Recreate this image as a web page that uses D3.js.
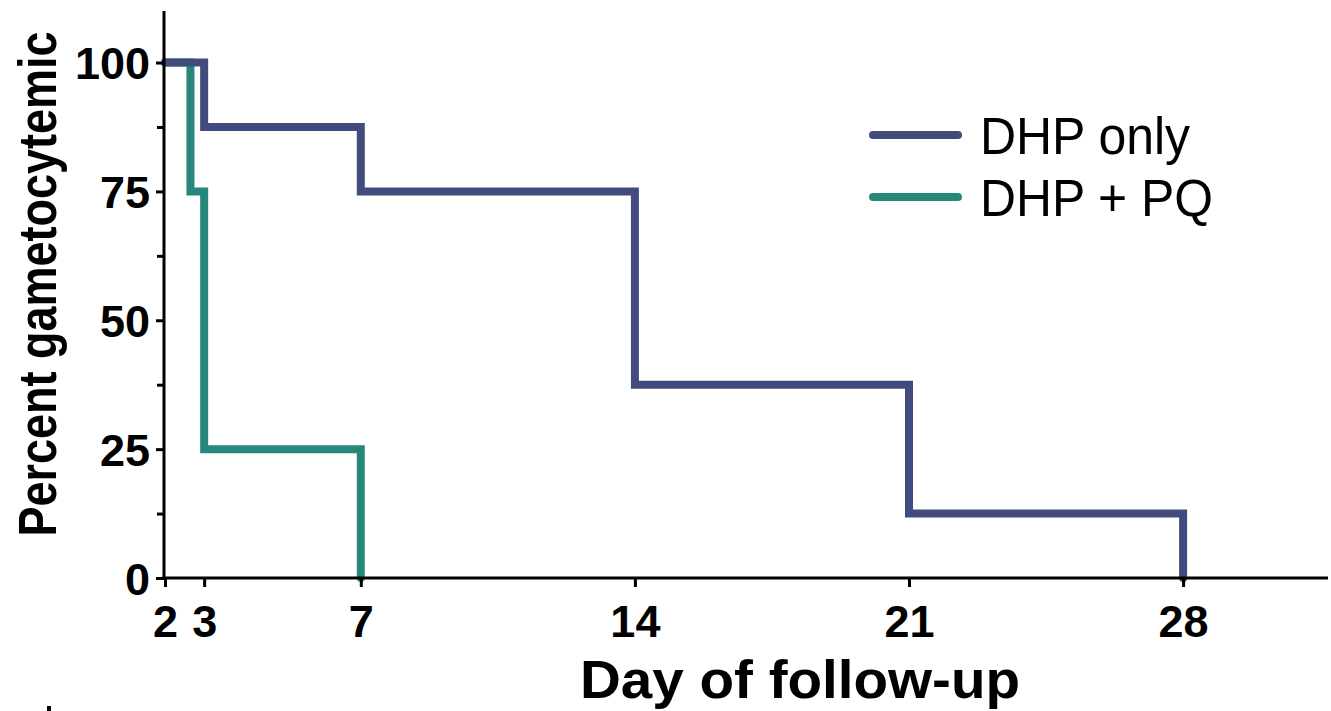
<!DOCTYPE html>
<html>
<head>
<meta charset="utf-8">
<script src="https://cdn.jsdelivr.net/npm/d3@7"></script>
<style>
  html, body { margin: 0; padding: 0; background: #fff; }
  svg { display: block; }
</style>
</head>
<body>
<svg id="chart" width="1331" height="711"></svg>
<script>
// ---- data ----
const dhpOnlyDays   = [2, 3, 7, 14, 21, 28];
const dhpOnlyValues = [100, 87.5, 75, 37.5, 12.5, 0];
const dhpPqDays     = [2, 2.65, 3, 7];
const dhpPqValues   = [100, 75, 25, 0];
const xTicks        = [2, 3, 7, 14, 21, 28];
const yMajorTicks   = [0, 25, 50, 75, 100];
const yMinorTicks   = [12.5, 37.5, 62.5, 87.5];
const seriesNames   = ["DHP only", "DHP + PQ"];
const seriesColors  = ["#414c7c", "#27877a"];
const xTitle = "Day of follow-up";
const yTitle = "Percent gametocytemic";

// ---- layout ----
const svg = d3.select("#chart");
const x = d3.scaleLinear().domain([2, 31.7]).range([165, 1328]);
const y = d3.scaleLinear().domain([0, 110]).range([578, 11]);

// lines
const line = d3.line().x(d => x(d[0])).y(d => y(d[1])).curve(d3.curveStepAfter);
const series = [
  { name: seriesNames[1], color: seriesColors[1], pts: d3.zip(dhpPqDays, dhpPqValues) },
  { name: seriesNames[0], color: seriesColors[0], pts: d3.zip(dhpOnlyDays, dhpOnlyValues) }
];
svg.append("g").selectAll("path").data(series).join("path")
  .attr("d", d => line(d.pts))
  .attr("fill", "none")
  .attr("stroke", d => d.color)
  .attr("stroke-width", 8)
  .attr("stroke-linecap", "round")
  .attr("stroke-linejoin", "miter");

// axes
const font = "'Liberation Sans', Arial, Helvetica, sans-serif";
const xAxis = svg.append("g").attr("transform", `translate(0,${y(0)})`)
  .call(d3.axisBottom(x).tickValues(xTicks).tickSize(9).tickSizeOuter(0));
const yAxis = svg.append("g").attr("transform", `translate(${x(2) - 1},0)`)
  .call(d3.axisLeft(y).tickValues(yMajorTicks).tickSize(8).tickSizeOuter(0).tickPadding(6));
const yMinor = svg.append("g").attr("transform", `translate(${x(2) - 1},0)`)
  .call(d3.axisLeft(y).tickValues(yMinorTicks).tickSize(7).tickFormat(""));
yMinor.select(".domain").remove();

[xAxis, yAxis, yMinor].forEach(g => {
  g.selectAll(".domain").attr("stroke", "#000").attr("stroke-width", 3);
  g.selectAll(".tick line").attr("stroke", "#000").attr("stroke-width", 3);
  g.selectAll(".tick text").attr("fill", "#000")
    .style("font-family", font).style("font-weight", "bold").style("font-size", "45px");
});
xAxis.select(".domain").attr("d", `M${x(2) - 2.5},0H${x(31.7)}`);
yAxis.select(".domain").attr("d", `M0,${y(0) + 1.5}V${y(110)}`);
yAxis.selectAll(".tick text").attr("dy", "0.36em");
xAxis.selectAll(".tick text").attr("y", 59).attr("dy", 0);

// axis titles
svg.append("text")
  .attr("x", 800).attr("y", 698)
  .attr("text-anchor", "middle")
  .attr("textLength", 440).attr("lengthAdjust", "spacingAndGlyphs")
  .style("font-family", font).style("font-weight", "bold").style("font-size", "54px")
  .text(xTitle);
svg.append("text")
  .attr("transform", "translate(56,284) rotate(-90)")
  .attr("text-anchor", "middle")
  .attr("textLength", 505).attr("lengthAdjust", "spacingAndGlyphs")
  .style("font-family", font).style("font-weight", "bold").style("font-size", "54px")
  .text(yTitle);

// legend
const legendRows = [
  { name: seriesNames[0], color: seriesColors[0], ly: 135, w: 210 },
  { name: seriesNames[1], color: seriesColors[1], ly: 197, w: 233 }
];
const lg = svg.append("g");
legendRows.forEach(r => {
  lg.append("line").attr("x1", 873).attr("x2", 958).attr("y1", r.ly).attr("y2", r.ly)
    .attr("stroke", r.color).attr("stroke-width", 8).attr("stroke-linecap", "round");
  lg.append("text").attr("x", 980).attr("y", r.ly + 19)
    .attr("textLength", r.w).attr("lengthAdjust", "spacingAndGlyphs")
    .style("font-family", font).style("font-size", "51px").attr("fill", "#000")
    .text(r.name);
});

// small stray mark at bottom-left of the original figure
svg.append("rect").attr("x", 47).attr("y", 706).attr("width", 4).attr("height", 5).attr("fill", "#000");
</script>
</body>
</html>
